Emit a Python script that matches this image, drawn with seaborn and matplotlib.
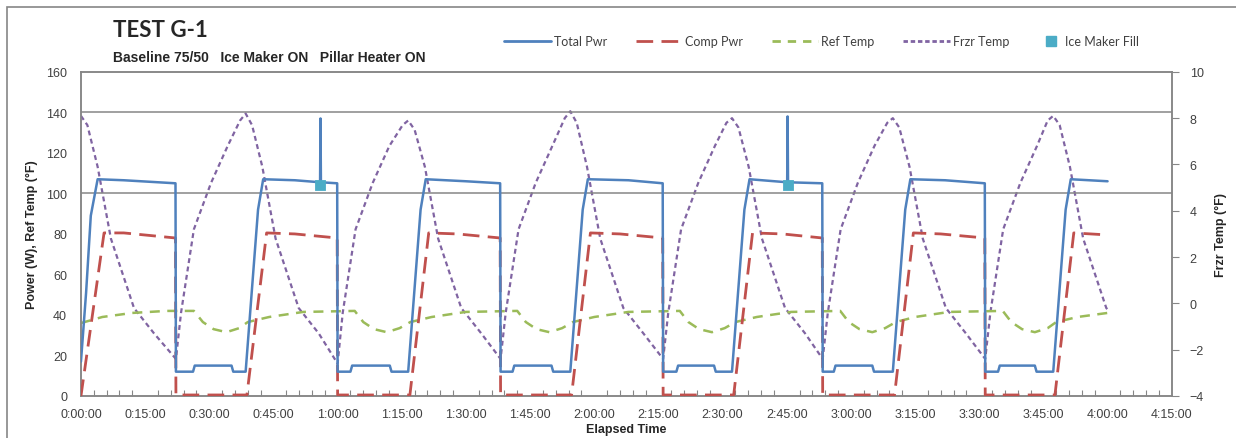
import numpy as np
import pandas as pd
import matplotlib
matplotlib.use("Agg")
import matplotlib.pyplot as plt
import matplotlib.ticker as mticker
from matplotlib.lines import Line2D
from matplotlib.patches import Rectangle
import seaborn as sns

# ---- data (elapsed time in minutes) ----
total_t = [0, 1.2, 2.3, 3.9, 10, 22.1,
           22.2, 26.2, 26.6, 35.2, 35.6, 38.5,
           41.4, 42.6, 50, 55.9, 56.0, 56.1, 59.9,
           60.0, 63.0, 63.4, 72.2, 72.6, 76.5,
           79.4, 80.6, 90, 98.0,
           98.1, 100.9, 101.3, 110.0, 110.4, 114.4,
           117.3, 118.5, 128, 136.0,
           136.1, 139.2, 139.6, 148.0, 148.4, 152.2,
           155.1, 156.3, 165.1, 165.2, 165.3, 173.3,
           173.4, 176.0, 176.4, 185.0, 185.4, 189.8,
           192.7, 193.9, 202, 211.3,
           211.4, 214.4, 214.8, 223.0, 223.4, 227.3,
           230.2, 231.4, 240]
total_pwr = [17, 51, 89, 107, 106.5, 105,
             12, 12, 15, 15, 12, 12,
             92, 107, 106.5, 105.5, 137, 105.5, 105,
             12, 12, 15, 15, 12, 12,
             92, 107, 106, 105,
             12, 12, 15, 15, 12, 12,
             92, 107, 106.5, 105,
             12, 12, 15, 15, 12, 12,
             92, 107, 105.5, 138, 105.5, 105,
             12, 12, 15, 15, 12, 12,
             92, 107, 106.5, 105,
             12, 12, 15, 15, 12, 12,
             92, 107, 106]

comp_t = [0, 5.4, 10, 22.1, 22.2, 38.8, 43.4, 50, 59.9, 60.0, 76.9, 81.3, 88, 98.0,
          98.1, 114.7, 119.1, 126, 136.0, 136.1, 152.6, 157, 164, 173.3, 173.4,
          190.2, 194.6, 201, 211.3, 211.4, 227.7, 232.1, 240]
comp_pwr = [0, 80.5, 80.5, 78, 0.5, 0.5, 80.5, 80, 78, 0.5, 0.5, 80.5, 80, 78,
            0.5, 0.5, 80.5, 80, 78, 0.5, 0.5, 80.5, 80, 78, 0.5,
            0.5, 80.5, 80, 78, 0.5, 0.5, 80.5, 79.5]

ref_t = [0, 5, 12, 20, 26.4, 28.5, 31, 34, 37, 39, 44, 52, 64, 66, 68.5, 71.5, 74.5,
         77, 82, 90, 102, 104, 106.5, 109.5, 112.5, 115, 120, 128, 140, 142, 144.5,
         147.5, 150.5, 153, 158, 166, 177.5, 179.5, 182, 185, 188, 190.5, 195, 203,
         215.5, 217.5, 220, 223, 226, 228, 233, 240]
ref_temp = [36, 39, 41, 42, 42, 36.5, 33, 31.5, 33.5, 36.5, 39, 41.5, 42, 36.5, 33, 31.5,
            33.5, 36.5, 39, 41.5, 42, 36.5, 33, 31.5, 33.5, 36.5, 39, 41.5, 42, 36.5, 33,
            31.5, 33.5, 36.5, 39, 41.5, 42, 36.5, 33, 31.5, 33.5, 36.5, 39, 41.5,
            42, 36.5, 33, 31.5, 33.5, 36.5, 39, 41]

frzr_t = [0, 1.5, 3.9, 7, 12.4, 17.1, 22.2,
          23.4, 26.4, 30.4, 34.3, 37.2, 38.5,
          40, 42.4, 45.5, 50.9, 55.6, 60,
          61.2, 64.2, 68.2, 72.1, 75.2, 76.5,
          78, 80.4, 83.5, 88.9, 93.6, 98.1,
          99.3, 102.3, 106.3, 110.2, 113.1, 114.4,
          115.9, 118.3, 121.4, 126.8, 131.5, 136.1,
          137.3, 140.3, 144.3, 148.2, 150.9, 152.2,
          153.7, 156.1, 159.2, 164.6, 169.3, 173.4,
          174.6, 177.6, 181.6, 185.5, 188.5, 189.8,
          191.3, 193.7, 196.8, 202.2, 206.9, 211.4,
          212.6, 215.6, 219.6, 223.5, 226, 227.3,
          228.8, 231.2, 234.3, 239.7, 240.2]
frzr_temp = [8.1, 7.7, 5.9, 2.8, -0.2, -1.3, -2.4,
             -0.4, 3.2, 5.2, 6.8, 7.9, 8.2,
             7.7, 5.9, 2.8, -0.2, -1.3, -2.6,
             -0.4, 3.2, 5.2, 6.8, 7.7, 7.9,
             7.5, 5.9, 2.8, -0.2, -1.3, -2.4,
             -0.4, 3.2, 5.2, 6.8, 8.0, 8.3,
             7.8, 5.9, 2.8, -0.2, -1.3, -2.4,
             -0.4, 3.2, 5.2, 6.8, 7.8, 8.0,
             7.6, 5.9, 2.8, -0.2, -1.3, -2.4,
             -0.4, 3.2, 5.2, 6.8, 7.8, 8.0,
             7.6, 5.9, 2.8, -0.2, -1.3, -2.4,
             -0.4, 3.2, 5.2, 6.8, 7.9, 8.1,
             7.7, 5.9, 2.8, -0.2, -0.3]

ice_t = [56.0, 165.2]
ice_fill = [104, 104]

blue, red, green, purple, cyan = "#4F81BD", "#C0504D", "#9BBB59", "#8064A2", "#4BACC6"

sns.set_style("white")
plt.rcParams["font.family"] = ["Liberation Sans", "DejaVu Sans"]

fig = plt.figure(figsize=(12.36, 4.39), dpi=100)
ax = fig.add_axes([0.0655, 0.0957, 0.8825, 0.7383])
ax2 = ax.twinx()

df_tot = pd.DataFrame({"t": total_t, "v": total_pwr})
df_comp = pd.DataFrame({"t": comp_t, "v": comp_pwr})
df_ref = pd.DataFrame({"t": ref_t, "v": ref_temp})
df_frz = pd.DataFrame({"t": frzr_t, "v": frzr_temp})
df_ice = pd.DataFrame({"t": ice_t, "v": ice_fill})

for yv in [140, 100]:
    ax.axhline(yv, color="#868686", lw=1.1, zorder=0)

sns.lineplot(data=df_ref, x="t", y="v", ax=ax, color=green, lw=1.8, sort=False,
             linestyle=(0, (4, 3)), zorder=2)
sns.lineplot(data=df_comp, x="t", y="v", ax=ax, color=red, lw=2.0, sort=False,
             linestyle=(0, (6, 3)), zorder=3)
sns.lineplot(data=df_tot, x="t", y="v", ax=ax, color=blue, lw=1.8, sort=False, zorder=4)
sns.lineplot(data=df_frz, x="t", y="v", ax=ax2, color=purple, lw=1.6, sort=False,
             linestyle=(0, (2.2, 1.6)), zorder=3)
sns.scatterplot(data=df_ice, x="t", y="v", ax=ax, color=cyan, marker="s", s=55,
                edgecolor=cyan, zorder=6)

ax.set_zorder(ax2.get_zorder() + 1)
ax.patch.set_visible(False)

ax.set_xlim(0, 255)
ax.set_ylim(0, 160)
ax2.set_ylim(-4, 10)
ax.yaxis.set_major_locator(mticker.MultipleLocator(20))
ax2.yaxis.set_major_locator(mticker.MultipleLocator(2))
ax.xaxis.set_major_locator(mticker.MultipleLocator(15))
ax.xaxis.set_minor_locator(mticker.MultipleLocator(3))


def hms(x, pos):
    m = int(round(x))
    return f"{m // 60}:{m % 60:02d}:00"


ax.xaxis.set_major_formatter(mticker.FuncFormatter(hms))

tick_col = "#404040"
ax.tick_params(axis="x", which="major", direction="inout", length=7, width=0.8,
               color="#868686", labelsize=9, labelcolor=tick_col, pad=5)
ax.tick_params(axis="x", which="minor", direction="in", length=4, width=0.8,
               color="#868686", bottom=True)
ax.tick_params(axis="y", length=0, labelsize=9, labelcolor=tick_col, pad=10)
ax2.tick_params(axis="y", direction="out", length=5, width=0.8, color="#868686",
                labelsize=9, labelcolor=tick_col, pad=8)

for a in (ax, ax2):
    for sp in a.spines.values():
        sp.set_color("#868686")
        sp.set_linewidth(1.1)

ax.set_xlabel("Elapsed Time", fontsize=9, fontweight="bold", labelpad=2)
ax.set_ylabel("Power (W), Ref Temp (°F)", fontsize=9, fontweight="bold", labelpad=6)
ax2.set_ylabel("Frzr Temp (°F)", fontsize=9, fontweight="bold", labelpad=8)

fig.text(0.0915, 0.93, "TEST G-1", fontsize=16, fontweight="bold",
         family=["Lato", "DejaVu Sans"], va="center")
fig.text(0.0915, 0.868, "Baseline 75/50   Ice Maker ON   Pillar Heater ON",
         fontsize=10, fontweight="bold", va="center")

line_handles = [
    Line2D([], [], color=blue, lw=2),
    Line2D([], [], color=red, lw=2, linestyle=(0, (6, 3))),
    Line2D([], [], color=green, lw=2, linestyle=(0, (3, 2.5))),
    Line2D([], [], color=purple, lw=2, linestyle=(0, (1.6, 1))),
]
line_labels = ["Total Pwr", "Comp Pwr", "Ref Temp", "Frzr Temp"]
leg_font = {"family": ["Lato", "DejaVu Sans"], "size": 9}
leg1 = fig.legend(line_handles, line_labels, loc="center left",
                  bbox_to_anchor=(0.399, 0.904), ncol=4, frameon=False,
                  handlelength=3.7, columnspacing=2.3, handletextpad=0.25,
                  labelcolor=tick_col, prop=leg_font)
fig.legend([Line2D([], [], color=cyan, marker="s", linestyle="none", markersize=7)],
           ["Ice Maker Fill"], loc="center left", bbox_to_anchor=(0.836, 0.904),
           frameon=False, handlelength=1.0, handletextpad=0.6,
           labelcolor=tick_col, prop=leg_font)

fig.patches.append(Rectangle((0.0057, -0.02), 1.02, 1.002, transform=fig.transFigure,
                             fill=False, edgecolor="#868686", lw=1.2))

fig.savefig("out.png", dpi=100)
